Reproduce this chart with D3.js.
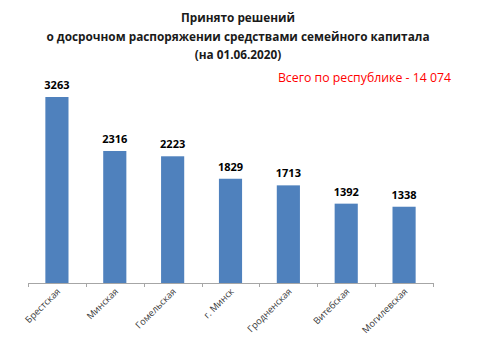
<!DOCTYPE html>
<html>
<head>
<meta charset="utf-8">
<script src="https://cdn.jsdelivr.net/npm/d3@7"></script>
<style>
  body { margin: 0; background: #fff; }
  svg { font-family: "Open Sans", "DejaVu Sans", sans-serif; }
</style>
</head>
<body>
<div id="chart"></div>
<script>
const regions = ["Брестская", "Минская", "Гомельская", "г. Минск", "Гродненская", "Витебская", "Могилевская"];
const decisions = [3263, 2316, 2223, 1829, 1713, 1392, 1338];
const title_lines = [
  "Принято решений",
  "о досрочном распоряжении средствами семейного капитала",
  "(на 01.06.2020)"
];
const total_note = "Всего по республике - 14 074";

const width = 490, height = 353;
const margin = { left: 28, right: 57, base: 283 };

const svg = d3.select("#chart").append("svg")
  .attr("width", width)
  .attr("height", height);

// title
svg.append("g").selectAll("text").data(title_lines).enter()
  .append("text")
  .attr("x", 238)
  .attr("y", (d, i) => 22 + i * 18.5)
  .attr("text-anchor", "middle")
  .attr("font-size", 11.8)
  .attr("font-weight", "bold")
  .attr("fill", "#1a1a1a")
  .text((d) => d);

svg.append("text")
  .attr("x", 451)
  .attr("y", 82)
  .attr("text-anchor", "end")
  .attr("font-size", 12.3)
  .attr("fill", "#ff0000")
  .text(total_note);

let x = d3.scaleBand()
  .domain(regions)
  .range([margin.left, width - margin.right])
  .paddingInner(0.6)
  .paddingOuter(0.3);

let y = d3.scaleLinear()
  .domain([0, 3500])
  .range([margin.base, margin.base - 3500 * 0.057]);

// bars
svg.append("g").selectAll("rect").data(decisions).enter()
  .append("rect")
  .attr("x", (d, i) => x(regions[i]))
  .attr("y", (d) => y(d))
  .attr("width", x.bandwidth())
  .attr("height", (d) => y(0) - y(d))
  .attr("fill", "#4f81bd");

// value labels
svg.append("g").selectAll("text").data(decisions).enter()
  .append("text")
  .attr("x", (d, i) => x(regions[i]) + x.bandwidth() / 2)
  .attr("y", (d) => y(d) - 8)
  .attr("text-anchor", "middle")
  .attr("font-size", 11)
  .attr("font-weight", "bold")
  .attr("fill", "#000")
  .text((d) => d);

// axis line with ticks between categories
let step = x.step();
let boundaries = d3.range(regions.length + 1).map((i) => margin.left + i * step);
let axis = svg.append("g");
axis.append("line")
  .attr("x1", margin.left).attr("x2", width - margin.right)
  .attr("y1", margin.base + 0.5).attr("y2", margin.base + 0.5)
  .attr("stroke", "#a6a6a6");
axis.selectAll(".tick").data(boundaries).enter()
  .append("line")
  .attr("class", "tick")
  .attr("x1", (d) => Math.round(d) + 0.5).attr("x2", (d) => Math.round(d) + 0.5)
  .attr("y1", margin.base).attr("y2", margin.base + 4)
  .attr("stroke", "#a6a6a6");

// category labels
axis.selectAll(".lab").data(regions).enter()
  .append("text")
  .attr("class", "lab")
  .attr("transform", (d) => "translate(" + (x(d) + x.bandwidth() / 2 + 4) + "," + (margin.base + 9) + ") rotate(-45)")
  .attr("text-anchor", "end")
  .attr("font-size", 9.3)
  .attr("fill", "#3a3a3a")
  .text((d) => d);
</script>
</body>
</html>
